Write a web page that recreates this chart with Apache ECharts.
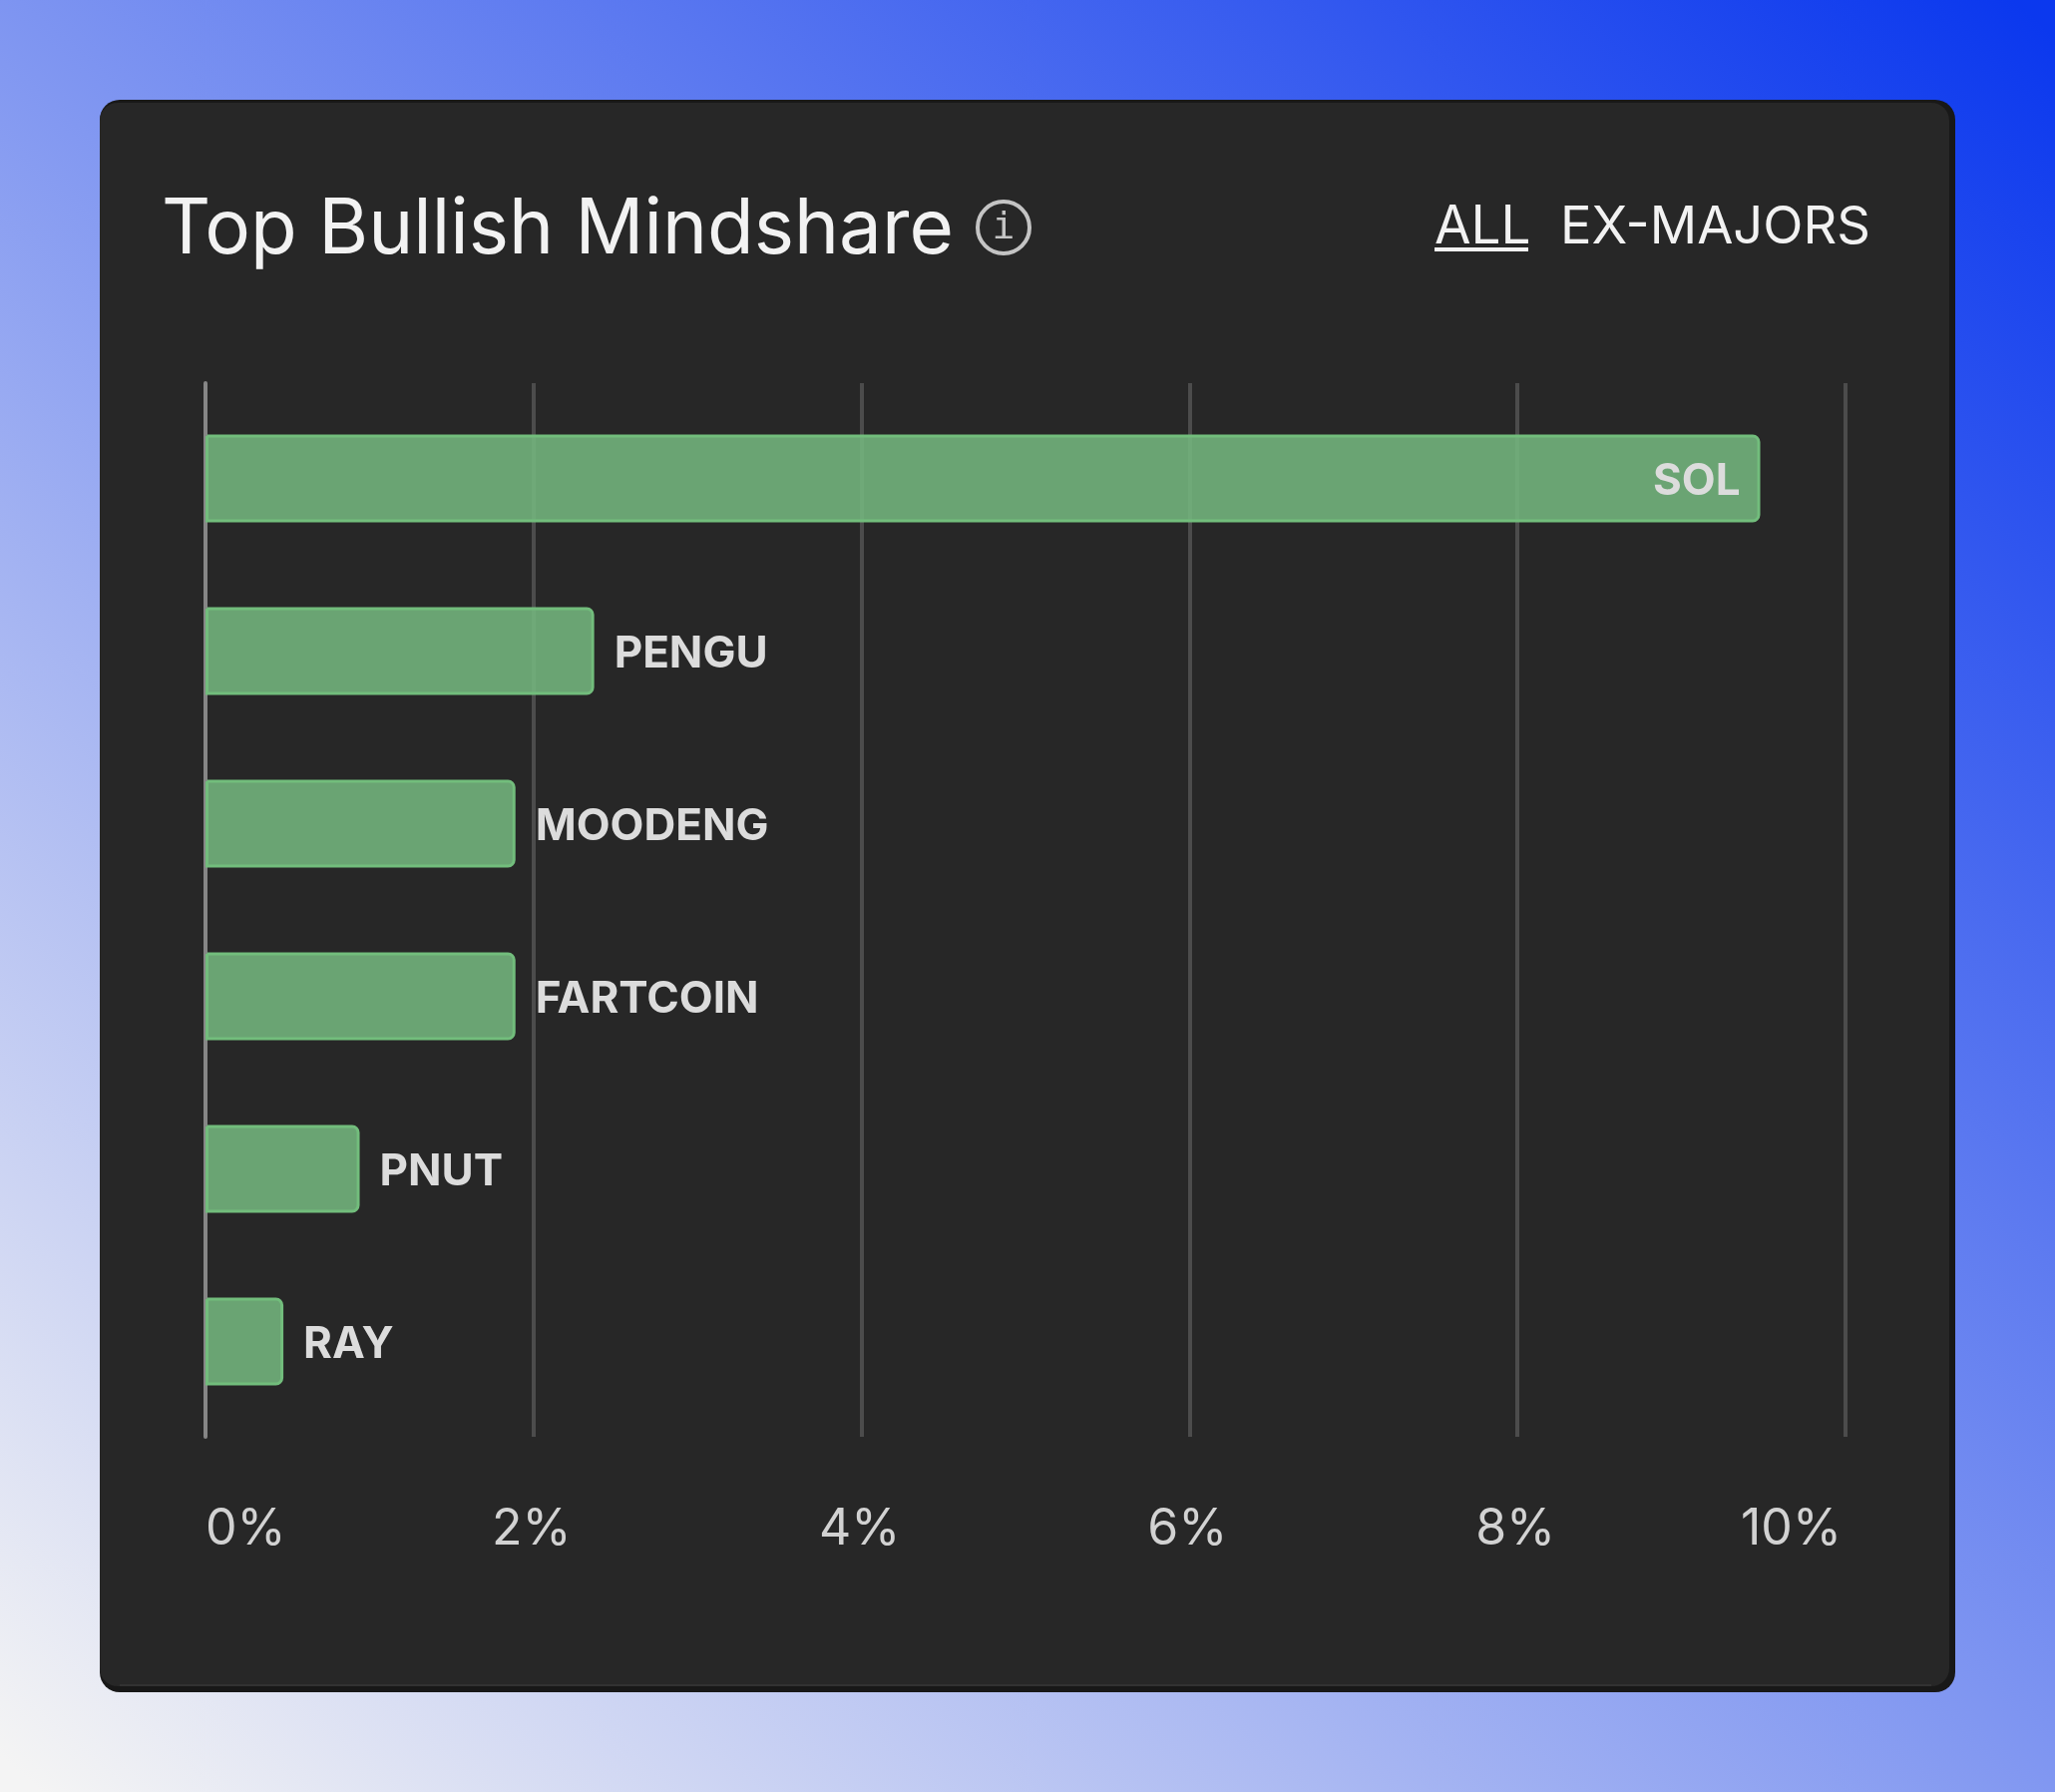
<!DOCTYPE html>
<html>
<head>
<meta charset="utf-8">
<style>
html, body { margin: 0; padding: 0; }
#chart { width: 2060px; height: 1796px; }
</style>
<script src="https://cdn.jsdelivr.net/npm/echarts@6/dist/echarts.min.js"></script>
</head>
<body>
<div id="chart"></div>
<script>
const categories = ['SOL', 'PENGU', 'MOODENG', 'FARTCOIN', 'PNUT', 'RAY'];
const mindshare = [9.48, 2.37, 1.89, 1.89, 0.94, 0.475];
const tabs = ['ALL', 'EX-MAJORS'];
const titleText = 'Top Bullish Mindshare';
const font = 'Inter';

const myCharts = echarts.init(document.getElementById('chart'));

const option = {
    animation: false,
    backgroundColor: new echarts.graphic.LinearGradient(0.084, 1.062, 0.916, -0.062, [
        { offset: 0, color: '#F4F4F4' },
        { offset: 1, color: '#0B38EE' }
    ]),
    // grid 0 carries the gridlines and ticks, grid 1 is a bit shorter and carries the bars
    grid: [
        { left: 206, width: 1644, top: 384, height: 1056 },
        { left: 206, width: 1644, top: 393, height: 1038 }
    ],
    xAxis: [{
        type: 'value',
        gridIndex: 0,
        min: 0,
        max: 10,
        interval: 2,
        axisLine: { show: false },
        axisTick: { show: false },
        splitLine: { lineStyle: { color: '#4C4C4C', width: 4 } },
        axisLabel: {
            color: '#D2D2D2',
            fontFamily: font,
            fontSize: 50,
            margin: 68,
            padding: [0, 4, 0, 0],
            alignMinLabel: 'left',
            alignMaxLabel: 'right',
            formatter: '{value}%'
        }
    }, {
        type: 'value',
        gridIndex: 1,
        min: 0,
        max: 10,
        show: false
    }],
    yAxis: [{
        type: 'category',
        gridIndex: 0,
        data: categories,
        inverse: true,
        axisLine: { show: true, lineStyle: { color: '#868686', width: 4 } },
        axisTick: { show: false },
        axisLabel: { show: false }
    }, {
        type: 'category',
        gridIndex: 1,
        data: categories,
        inverse: true,
        show: false
    }],
    series: [{
        type: 'bar',
        xAxisIndex: 1,
        yAxisIndex: 1,
        barWidth: 88,
        data: mindshare.map((v, i) => ({
            value: v,
            label: { position: i === 0 ? 'insideRight' : 'right' }
        })),
        itemStyle: {
            color: 'rgba(116, 182, 126, 0.88)',
            borderColor: '#72BD7C',
            borderWidth: 3,
            borderRadius: [0, 6, 6, 0]
        },
        label: {
            show: true,
            formatter: '{b}',
            distance: 20,
            offset: [0, 3],
            color: '#DCDCDC',
            fontFamily: font,
            fontWeight: 'bold',
            fontSize: 44
        }
    }],
    graphic: [
        // card
        { type: 'rect', z: -2, shape: { x: 100, y: 100, width: 1860, height: 1596, r: 20 }, style: { fill: '#181818' } },
        { type: 'rect', z: -1, shape: { x: 100, y: 103, width: 1854, height: 1587, r: 18 }, style: { fill: '#272727' } },
        { type: 'rect', z: -1, shape: { x: 120, y: 1688, width: 1816, height: 2 }, style: { fill: '#323232' } },
        // title
        { type: 'text', x: 162, y: 269, style: { text: titleText, fill: '#F2F2F2', font: '76.3px ' + font, textVerticalAlign: 'bottom' } },
        // info icon
        { type: 'circle', shape: { cx: 1006, cy: 228, r: 26 }, style: { fill: 'none', stroke: '#C4C4C4', lineWidth: 4 } },
        { type: 'text', x: 1006, y: 229, style: { text: 'i', fill: '#C4C4C4', font: '38px "DejaVu Sans Mono"', textAlign: 'center', textVerticalAlign: 'middle' } },
        // tabs
        { type: 'text', x: 1438, y: 255, style: { text: tabs[0], fill: '#F2F2F2', font: '53px ' + font, textVerticalAlign: 'bottom' } },
        { type: 'rect', shape: { x: 1438, y: 248, width: 94, height: 4 }, style: { fill: '#F2F2F2' } },
        { type: 'text', x: 1564, y: 255, style: { text: tabs[1], fill: '#F2F2F2', font: '52.5px ' + font, textVerticalAlign: 'bottom' } }
    ]
};

myCharts.setOption(option);
</script>
</body>
</html>
